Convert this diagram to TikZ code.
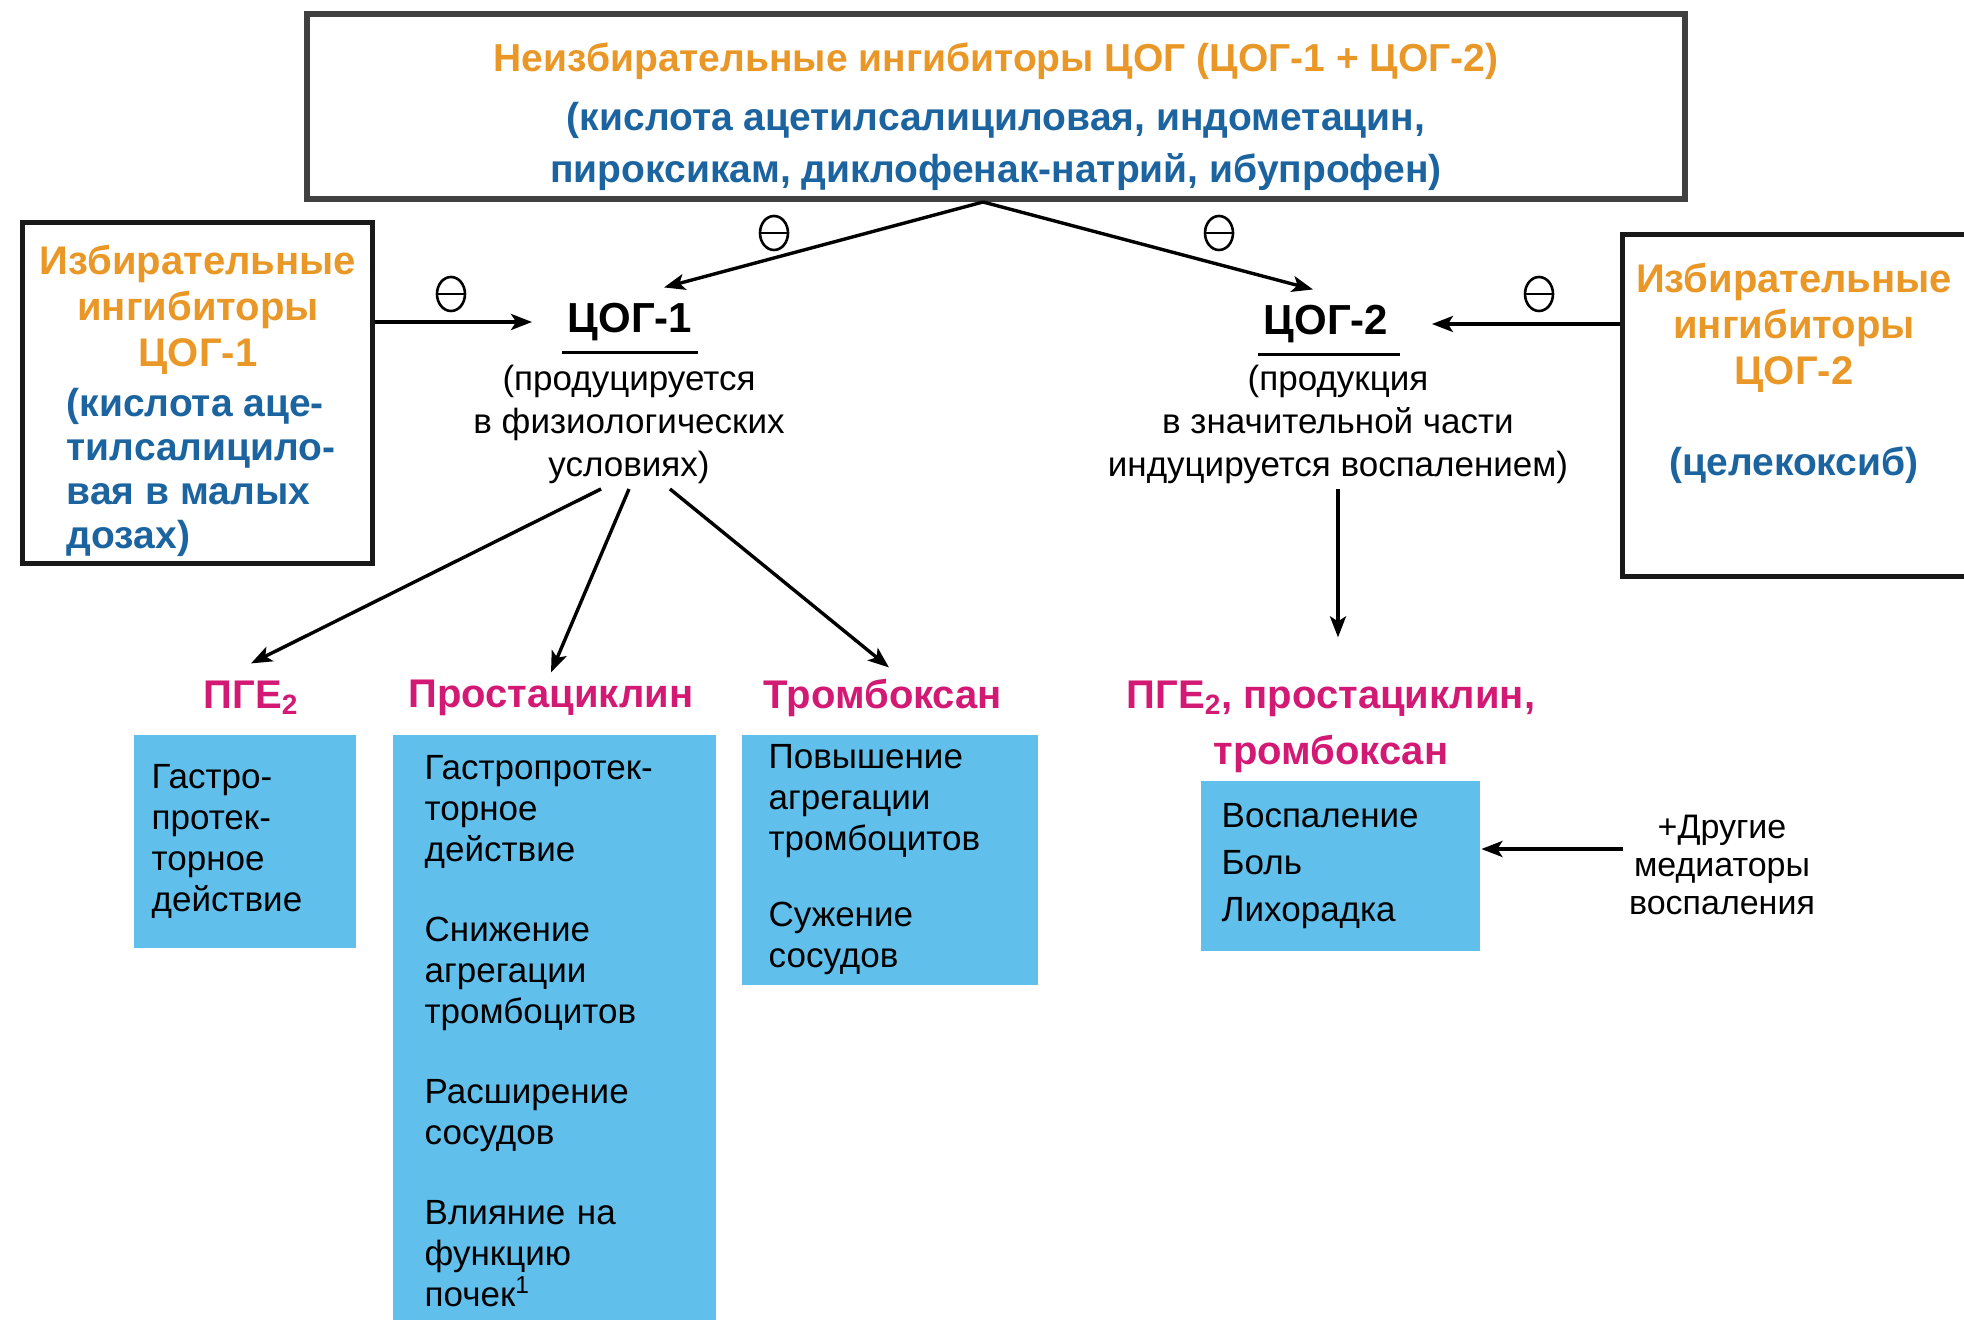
\documentclass[tikz,border=0pt]{standalone}
\usepackage{fontspec}
\setmainfont{Liberation Sans}
\usepackage{tikz}
\usetikzlibrary{arrows.meta, shapes.geometric}

\definecolor{selorange}{RGB}{233,152,40}
\definecolor{drugblue}{RGB}{28,100,160}
\definecolor{prodpink}{RGB}{210,25,115}
\definecolor{fxblue}{RGB}{96,192,235}
\definecolor{framegray}{RGB}{25,25,25}

\newcommand{\setfs}[2]{\fontsize{#1}{#2}\selectfont}

\begin{document}
\begin{tikzpicture}[x=0.5pt, y=-0.5pt, line width=1.7pt,
    frm/.style={draw=framegray, line width=2.5pt, inner sep=0pt},
    sel/.style={font=\bfseries\setfs{20}{23}, text=selorange, align=center, inner sep=0pt},
    drug/.style={font=\bfseries\setfs{19.5}{22}, text=drugblue, inner sep=0pt},
    cox/.style={font=\bfseries\setfs{21}{24}, inner ysep=2pt},
    note/.style={font=\setfs{17.5}{21.5}, align=center, inner sep=2pt},
    prod/.style={font=\bfseries\setfs{20}{28}, text=prodpink, align=center, inner sep=2pt},
    fx/.style={fill=fxblue, anchor=north west, align=left, font=\setfs{17.5}{20.5}},
    arr/.style={-{Stealth[length=10.5pt, width=8pt, inset=2.5pt]}, line width=1.7pt},
    uline/.style={line width=1.1pt},
    inhib/.style={draw, ellipse, line width=1.3pt, minimum width=14pt, minimum height=17pt,
      inner sep=0pt, path picture={\draw[line width=1.3pt]
        ([xshift=-8pt]path picture bounding box.center) -- ([xshift=8pt]path picture bounding box.center);}}]
    \useasboundingbox (0,0) rectangle (1964,1320);

    % non-selective inhibitors
    \node[frm, draw=black!75, line width=3pt, minimum width=689pt, minimum height=92.5pt, align=center,
      font=\bfseries\setfs{19.5}{26}, text=drugblue] (top) at (996,107)
      {\rule{0pt}{23.6pt}{\color{selorange}Неизбирательные ингибиторы ЦОГ (ЦОГ-1 + ЦОГ-2)}\\[3.5pt]
       (кислота ацетилсалициловая, индометацин,\\
       пироксикам, диклофенак-натрий, ибупрофен)};
    \coordinate (split) at (983,202);

    % selective inhibitors, left and right
    \node[frm, minimum width=175pt, minimum height=170.5pt] (sel1) at (197,393.5) {};
    \node[sel] (sel1h) at (198,310) {Избирательные\\ингибиторы\\ЦОГ-1};
    \node[drug, align=left, anchor=west] (sel1d) at (65,472)
      {(кислота аце-\\тилсалицило-\\вая в малых\\дозах)};

    \node[frm, minimum width=172pt, minimum height=170.5pt] (sel2) at (1794,405.5) {};
    \node[sel] (sel2h) at (1794,328) {Избирательные\\ингибиторы\\ЦОГ-2};
    \node[drug] (sel2d) at (1794,465) {(целекоксиб)};

    % COX-1 and COX-2
    \node[cox, inner xsep=17pt] (cox1) at (630,322) {ЦОГ-1};
    \draw[uline] ([shift={(30,20)}]cox1.base west) -- ([shift={(-30,20)}]cox1.base east);
    \node[note] (c1note) at (629,424) {(продуцируется\\в физиологических\\условиях)};

    \node[cox, inner xsep=21pt] (cox2) at (1326,324) {ЦОГ-2};
    \draw[uline] ([shift={(38,20)}]cox2.base west) -- ([shift={(-32,20)}]cox2.base east);
    \node[note] (c2note) at (1338,424) {(продукция\\в значительной части\\индуцируется воспалением)};

    % inhibition marks
    \node[inhib] (m1) at (774,233) {};
    \node[inhib] (m2) at (1219,233) {};
    \node[inhib] (m3) at (451,294) {};
    \node[inhib] (m4) at (1539,294) {};

    % prostanoids
    \node[prod] (pge) at (251,698) {ПГЕ\textsubscript{2}};
    \node[prod] (prost) at (551,698) {Простациклин};
    \node[prod] (tbx) at (883,698) {Тромбоксан};
    \node[prod] (all2) at (1331,727) {ПГЕ\textsubscript{2}, простациклин,\\тромбоксан};

    % effects
    \node[fx, inner xsep=9pt, text width=93pt, minimum height=106.5pt] (pgefx) at (132,733)
      {Гастро-\\протек-\\торное\\действие};
    \node[fx, inner xsep=16pt, text width=129.5pt, minimum height=296pt] (prostfx) at (391,733)
      {Гастропротек-\\торное\\действие\\[19.5pt]Снижение\\агрегации\\тромбоцитов\\[19.5pt]%
       Расширение\\сосудов\\[19.5pt]Влияние на\\функцию\\почек\textsuperscript{1}};
    \node[fx, inner xsep=13.5pt, text width=121pt, minimum height=125pt] (tbxfx) at (740,733)
      {Повышение\\агрегации\\тромбоцитов\\[17.5pt]Сужение\\сосудов};
    \node[fx, inner xsep=10.5pt, text width=118.5pt, minimum height=85pt,
      font=\setfs{17.5}{23.5}] (cox2fx) at (1199,779) {Воспаление\\Боль\\Лихорадка};
    \node[note, font=\setfs{17}{19}] (other) at (1722,865) {+Другие\\медиаторы\\воспаления};

    % arrows
    \draw[arr] (split) -- ([shift={(34,-10)}]cox1.north);
    \draw[arr] (split) -- ([shift={(-13,-10)}]cox2.north);
    \draw[arr] (sel1.east |- cox1.west) -- (cox1.west);
    \draw[arr] (sel2.west |- cox2.east) -- (cox2.east);
    \draw[arr] ([xshift=-14pt]c1note.south) -- ([shift={(0,-12)}]pge.north);
    \draw[arr] (c1note.south) -- ([shift={(0,-2)}]prost.north);
    \draw[arr] ([xshift=20.5pt]c1note.south) -- ([shift={(6,-6)}]tbx.north);
    \draw[arr] (c2note.south) -- ([yshift=19pt]c2note.south |- all2.north);
    \draw[arr] ([yshift=8pt]other.west) -- ([yshift=8pt]other.west -| cox2fx.east);
\end{tikzpicture}
\end{document}
